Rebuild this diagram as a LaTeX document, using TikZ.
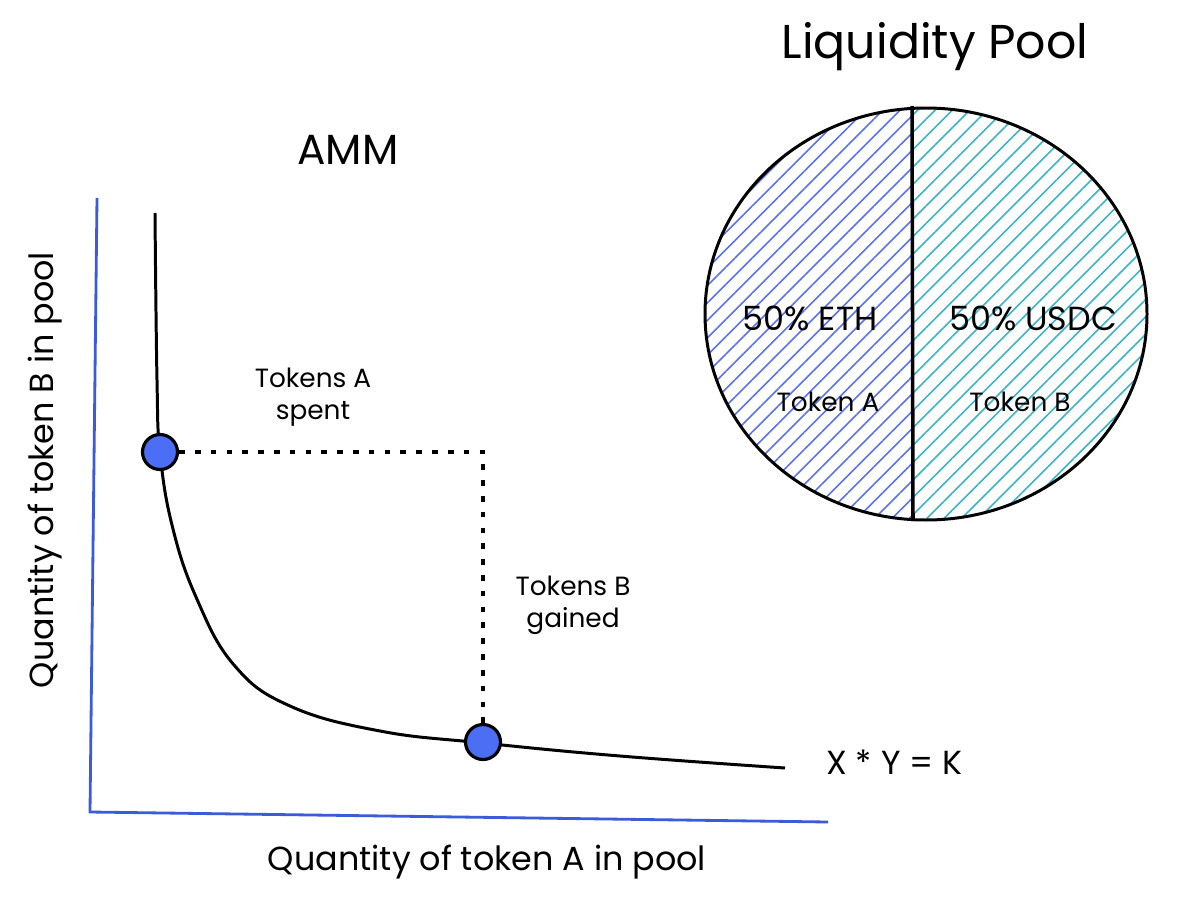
\documentclass[tikz,border=0pt]{standalone}
\usepackage{fontspec}
\setmainfont{Poppins}
\usepackage{xcolor}
\usetikzlibrary{patterns.meta, positioning}

\definecolor{axisblue}{HTML}{3B5BDB}
\definecolor{dotblue}{HTML}{4C6EF5}
\definecolor{ethhatch}{HTML}{5B72EA}
\definecolor{usdchatch}{HTML}{3BB4C9}

\begin{document}
\begin{tikzpicture}[x=0.02cm, y=-0.02cm,
  note/.style={font=\fontsize{15}{18}\selectfont, align=center, inner sep=0pt},
  heading/.style={font=\fontsize{27}{32}\selectfont, inner sep=0pt},
  axisnote/.style={font=\fontsize{19}{22}\selectfont, inner sep=0pt},
  share/.style={font=\fontsize{19}{22}\selectfont, inner sep=0pt},
  tokendot/.style={circle, draw, line width=1.8pt, fill=dotblue,
                   minimum size=0.7cm, inner sep=0pt},
  tradepath/.style={line width=2.2pt, dash pattern=on 3.2pt off 5.8pt},
  hatch/.style={pattern={Lines[angle=45, distance=7pt, line width=0.9pt]}}
]
\useasboundingbox (0,0) rectangle (1200,906);

% titles
\node[heading] (pool) at (935,47) {Liquidity Pool};
\node[heading, font=\fontsize{24}{28}\selectfont] (amm) at (348,150) {AMM};

% axes
\coordinate (ytop) at (97,198);
\coordinate (origin) at (90,812);
\coordinate (xend) at (828,822);
\draw[axisblue, line width=1.6pt] (ytop) -- (origin) -- (xend);
\node[axisnote, rotate=90] (ylab) at (45,470) {Quantity of token B in pool};
\node[axisnote] (xlab) at (487,862) {Quantity of token A in pool};

% constant product curve
\draw[line width=1.7pt] plot[smooth, tension=0.7] coordinates {
  (155,213) (157,380) (160,452) (172,525) (196,597) (234,665)
  (290,706) (380,731) (483,743) (620,756) (785,768)};
\node[axisnote, anchor=west] (eq) at (826,762) {X * Y = K};

% trade
\node[tokendot] (before) at (160,452) {};
\node[tokendot] (after) at (483,742) {};
\draw[tradepath] (before) -| (after);
\node[note] (spent) at (313,397) {Tokens A\\spent};
\node[note] (gained) at (573,605) {Tokens B\\gained};

% liquidity pool
\coordinate (centre) at (926,314);
\begin{scope}
  \clip (centre) ellipse [x radius=221, y radius=206];
  \fill[hatch, pattern color=ethhatch] (700,100) rectangle (912,530);
  \fill[hatch, pattern color=usdchatch] (912,100) rectangle (1152,530);
\end{scope}
\draw[line width=1.7pt] (centre) ellipse [x radius=221, y radius=206];
\coordinate (cuttop) at (912,106);
\coordinate (cutbot) at (913,521);
\draw[line width=2pt] (cuttop) -- (cutbot);
\node[share] (eth) at (810,318) {50\% ETH};
\node[share] (usdc) at (1033,318) {50\% USDC};
\node[note] (tokena) at (828,402) {Token A};
\node[note] (tokenb) at (1020,402) {Token B};
\end{tikzpicture}
\end{document}
